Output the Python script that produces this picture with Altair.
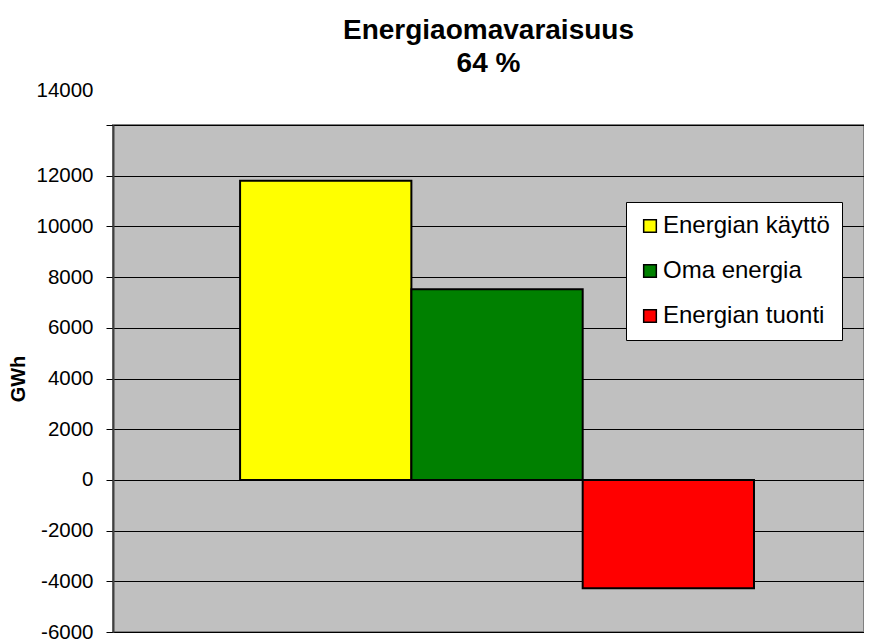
import altair as alt
import pandas as pd

series = ["Energian käyttö", "Oma energia", "Energian tuonti"]
values_gwh = [11800, 7520, -4270]
colors = ["#FFFF00", "#008000", "#FF0000"]
y_ticks = [-6000, -4000, -2000, 0, 2000, 4000, 6000, 8000, 10000, 12000, 14000]
title_lines = ["Energiaomavaraisuus", "64 %"]

df = pd.DataFrame({"sarja": series, "GWh": values_gwh})

FONT = "Liberation Sans"

chart = alt.Chart(df).mark_bar(stroke="black", strokeWidth=2).encode(
    x=alt.X("sarja:N", sort=series, axis=None,
            scale=alt.Scale(paddingInner=0, paddingOuter=0.692, align=0.536)),
    y=alt.Y("GWh:Q",
            scale=alt.Scale(domain=[-6000, 14000], nice=False, zero=True),
            axis=alt.Axis(values=y_ticks, title="GWh", titleFont=FONT, titleFontSize=20,
                          titleFontWeight="bold", titleColor="black", titlePadding=7,
                          labelExpr="'' + datum.value",
                          labelFont=FONT, labelFontSize=20.5, labelColor="black",
                          labelPadding=13, tickSize=7, tickColor="black", tickWidth=1,
                          domainColor="#404040", domainWidth=2,
                          grid=True, gridColor="black", gridWidth=1, gridOpacity=1,
                          labelOffset={"condition": {"test": "datum.value == 14000", "value": -35},
                                       "value": 0})),
    color=alt.Color("sarja:N", sort=series,
                    scale=alt.Scale(domain=series, range=colors),
                    legend=alt.Legend(title=None, orient="none", legendX=513, legendY=77,
                                      fillColor="white", strokeColor="black", padding=12,
                                      symbolType="square", symbolSize=160,
                                      symbolStrokeColor="black", symbolStrokeWidth=1.5,
                                      symbolOpacity=1, labelFont=FONT, labelFontSize=24,
                                      labelLimit=400,
                                      labelColor="black", rowPadding=21, labelOffset=1)),
).properties(
    width=751,
    height=507,
    padding={"left": 0, "top": 9, "right": 0, "bottom": 0},
    title=alt.TitleParams(text=title_lines, font=FONT, fontSize=28, fontWeight="bold",
                          color="black", anchor="middle", lineHeight=33, offset=2),
).configure_view(
    fill="#C0C0C0", stroke="#808080", strokeWidth=2
)

chart.save("out.html", embed_options={"renderer": "svg", "actions": False})
